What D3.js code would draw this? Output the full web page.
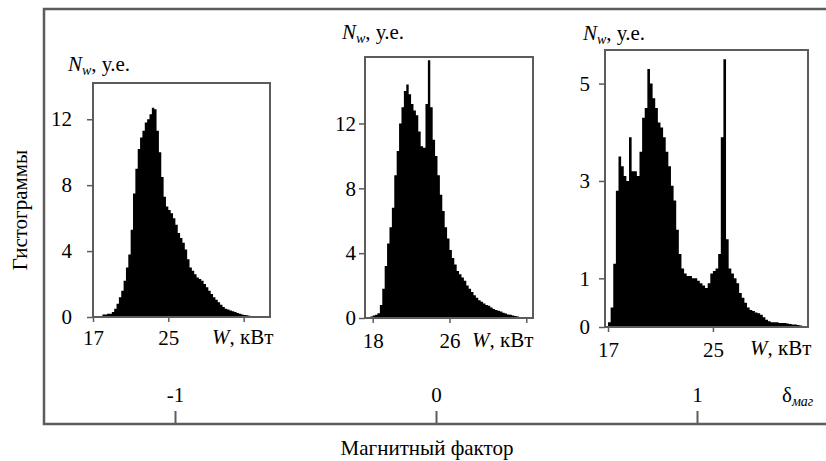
<!DOCTYPE html>
<html>
<head>
<meta charset="utf-8">
<script src="https://cdn.jsdelivr.net/npm/d3@7"></script>
<style>
  body { margin: 0; background: #fff; }
  svg, svg text { font-family: "Liberation Serif", "DejaVu Serif", serif; }
</style>
</head>
<body>
<div id="chart"></div>
<script>
// Histogram values (N_w, у.е.) per bin
// bins start at *Start and are *Step kW wide
const hist1Start = 18.0, hist1Step = 0.25;
const hist1Values = [0.15, 0.15, 0.2, 0.2, 0.3, 0.5, 0.8, 1.2, 1.6, 2.2, 3.0, 3.8, 5.3, 7.5, 9.0, 10.2,
    10.9, 11.3, 11.8, 12.0, 12.3, 12.7, 12.6, 11.3, 10.0, 8.5, 7.3, 6.7, 6.5, 6.3, 6.0, 5.6,
    5.1, 4.8, 4.5, 4.1, 3.5, 3.0, 2.8, 2.6, 2.4, 2.3, 2.2, 2.0, 1.8, 1.6, 1.4, 1.2,
    1.05, 0.9, 0.75, 0.6, 0.5, 0.45, 0.4, 0.35, 0.3, 0.25, 0.2, 0.15, 0.12, 0.1, 0.08, 0.05];

const hist2Start = 17.75, hist2Step = 0.25;
const hist2Values = [0.1, 0.15, 0.2, 0.3, 0.8, 1.8, 3.2, 4.6, 5.6, 6.8, 8.8, 10.3, 12.0, 13.0, 14.0, 14.4,
    13.8, 13.2, 12.8, 12.5, 11.5, 10.6, 10.5, 13.2, 15.9, 13.0, 11.0, 10.0, 8.8, 7.6, 6.6, 5.6,
    4.9, 4.2, 3.7, 3.3, 2.9, 2.7, 2.5, 2.3, 2.0, 1.8, 1.6, 1.4, 1.25, 1.1, 1.0, 0.9,
    0.8, 0.75, 0.65, 0.55, 0.5, 0.45, 0.4, 0.33, 0.28, 0.22, 0.2, 0.15, 0.12, 0.1, 0.06];

const hist3Start = 17.0, hist3Step = 0.2;
const hist3Values = [0.1, 0.4, 1.3, 2.8, 3.5, 3.3, 3.1, 3.0, 3.9, 3.2, 3.2, 3.1, 3.6, 4.3, 4.5, 5.3,
    5.0, 4.7, 4.5, 4.2, 4.1, 3.9, 3.6, 3.3, 2.9, 2.6, 2.0, 1.5, 1.2, 1.1, 1.05, 1.05,
    1.0, 1.0, 0.95, 0.9, 0.85, 0.8, 0.9, 1.1, 1.15, 1.2, 1.5, 3.9, 5.5, 1.8, 1.2, 1.1,
    1.0, 0.9, 0.7, 0.6, 0.5, 0.4, 0.35, 0.33, 0.3, 0.28, 0.25, 0.2, 0.15, 0.12, 0.1, 0.1,
    0.1, 0.08, 0.08, 0.08, 0.07, 0.06, 0.05, 0.05, 0.04, 0.03];

// Tick values
const hist1XTicks = [17, 25, 33], hist1YTicks = [0, 4, 8, 12];
const hist2XTicks = [18, 26, 34], hist2YTicks = [0, 4, 8, 12];
const hist3XTicks = [17, 25], hist3YTicks = [0, 1, 3, 5];
const magTicks = [-1, 0, 1];

const width = 826, height = 461;
const frameColor = "#5c5c5c";
const fontSize = 21;
const serif = "Liberation Serif, DejaVu Serif, serif";

const svg = d3.select("#chart")
    .append("svg")
    .attr("width", width)
    .attr("height", height)
    .attr("font-family", serif);

// Outer frame (open to the right)
svg.append("path")
    .attr("d", `M${width},9 H44 V424 H${width}`)
    .attr("fill", "none")
    .attr("stroke", frameColor)
    .attr("stroke-width", 2.5);

// Outer axis: magnetic factor
const mag = d3.scaleLinear().domain([-1, 1]).range([175, 697]);
const magAxis = svg.append("g")
    .attr("transform", "translate(0,424)")
    .call(d3.axisTop(mag).tickValues(magTicks).tickSize(13).tickPadding(9));
magAxis.attr("font-family", serif);
magAxis.select(".domain").remove();
magAxis.selectAll("line").attr("stroke", frameColor).attr("stroke-width", 2);
magAxis.selectAll("text")
    .attr("font-size", fontSize)
    .attr("fill", "black")
    .text(d => d < 0 ? "-" + Math.abs(d) : d);

const deltaLabel = svg.append("text")
    .attr("x", 782)
    .attr("y", 402)
    .attr("font-size", fontSize);
deltaLabel.append("tspan").text("δ");
deltaLabel.append("tspan")
    .attr("dy", 4)
    .attr("font-size", 14)
    .attr("font-style", "italic")
    .text("маг");

svg.append("text")
    .attr("x", 427)
    .attr("y", 455)
    .attr("text-anchor", "middle")
    .attr("font-size", fontSize)
    .text("Магнитный фактор");

svg.append("text")
    .attr("transform", "translate(27,210) rotate(-90)")
    .attr("text-anchor", "middle")
    .attr("font-size", fontSize)
    .text("Гистограммы");

// One histogram panel
function drawPanel(p) {
    const x = d3.scaleLinear().domain(p.xDomain).range([p.left, p.right]);
    const y = d3.scaleLinear().domain(p.yDomain).range([p.bottom, p.top]);

    const bins = p.values.map((v, i) => ({ w: p.start + i * p.step, v: v }));
    bins.push({ w: p.start + p.values.length * p.step, v: p.values[p.values.length - 1] });

    const area = d3.area()
        .curve(d3.curveStepAfter)
        .x(d => x(d.w))
        .y0(y(0))
        .y1(d => y(d.v));

    svg.append("path")
        .datum(bins)
        .attr("fill", "black")
        .attr("d", area);

    // Y axis
    const yAxis = svg.append("g")
        .attr("transform", `translate(${p.left},0)`)
        .call(d3.axisLeft(y).tickValues(p.yTicks).tickSize(6).tickPadding(p.yPad).tickFormat(d3.format("d")));
    yAxis.select(".domain").remove();

    // X axis
    const xAxis = svg.append("g")
        .attr("transform", `translate(0,${p.bottom})`)
        .call(d3.axisBottom(x).tickValues(p.xTicks).tickSize(5).tickPadding(p.xPad)
            .tickFormat((d, i) => i < 2 ? d : ""));
    xAxis.select(".domain").remove();

    [xAxis, yAxis].forEach(a => {
        a.attr("font-family", serif);
        a.selectAll("line").attr("stroke", frameColor).attr("stroke-width", 1.5);
        a.selectAll("text")
            .attr("font-size", fontSize)
            .attr("fill", "black");
    });

    // Frame
    svg.append("rect")
        .attr("x", p.left)
        .attr("y", p.top)
        .attr("width", p.right - p.left)
        .attr("height", p.bottom - p.top)
        .attr("fill", "none")
        .attr("stroke", frameColor)
        .attr("stroke-width", 2);

    // N_w, у.е.
    const nLabel = svg.append("text")
        .attr("x", p.nx)
        .attr("y", p.ny)
        .attr("font-size", fontSize);
    nLabel.append("tspan").attr("font-style", "italic").text("N");
    nLabel.append("tspan").attr("font-style", "italic").attr("font-size", 14).attr("dy", 4).text("w");
    nLabel.append("tspan").attr("dy", -4).text(", у.е.");

    // W, кВт
    const wLabel = svg.append("text")
        .attr("x", p.wx)
        .attr("y", p.wy)
        .attr("font-size", fontSize);
    wLabel.append("tspan").attr("font-style", "italic").text("W");
    wLabel.append("tspan").text(", кВт");
}

drawPanel({
    values: hist1Values, start: hist1Start, step: hist1Step,
    xTicks: hist1XTicks, yTicks: hist1YTicks,
    xDomain: [17, 35.8], yDomain: [0, 14.2],
    left: 93, right: 270, top: 83, bottom: 317,
    yPad: 15, xPad: 8, nx: 68, ny: 71, wx: 212, wy: 344
});

drawPanel({
    values: hist2Values, start: hist2Start, step: hist2Step,
    xTicks: hist2XTicks, yTicks: hist2YTicks,
    xDomain: [17.2, 34.7], yDomain: [0, 16.1],
    left: 365, right: 533, top: 57, bottom: 318,
    yPad: 3, xPad: 10, nx: 342, ny: 39, wx: 472, wy: 347
});

drawPanel({
    values: hist3Values, start: hist3Start, step: hist3Step,
    xTicks: hist3XTicks, yTicks: hist3YTicks,
    xDomain: [16.77, 32.25], yDomain: [0, 5.69],
    left: 605, right: 808, top: 50, bottom: 327,
    yPad: 9, xPad: 10, nx: 583, ny: 40, wx: 750, wy: 355
});
</script>
</body>
</html>
